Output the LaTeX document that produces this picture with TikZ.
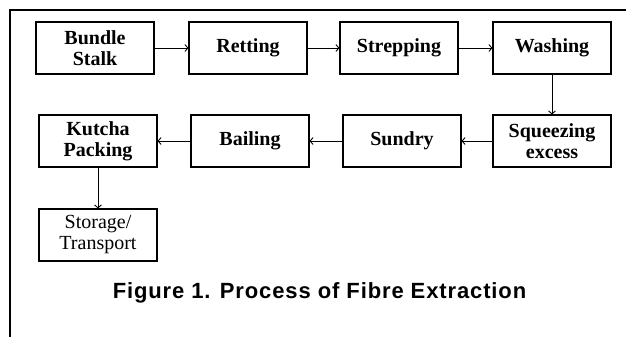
\documentclass[tikz,border=0pt]{standalone}
\usepackage{fontspec}
\usetikzlibrary{arrows.meta}
\newfontfamily\stagefont{Liberation Serif}
\newfontfamily\capfont[LetterSpace=4]{Liberation Sans}

\begin{document}
\begin{tikzpicture}[
  x=1pt, y=-1pt,
  stage/.style={draw, line width=1.1pt, minimum width=118pt,
                minimum height=52pt, inner sep=0pt, align=center,
                font=\stagefont\bfseries\fontsize{20}{21}\selectfont},
  plainstage/.style={stage, font=\stagefont\fontsize{20}{21}\selectfont},
  arrow/.style={-{Straight Barb[length=3pt,width=7pt]}, line width=0.9pt},
]
\useasboundingbox (0,0) rectangle (626,337);

% outer frame (only top and left edges show)
\draw[line width=2.4pt] (10,337) -- (10,10) -- (626,10);

\node[stage]      (bs)  at (95,48)   {Bundle\\Stalk};
\node[stage]      (ret) at (248,48)  {Retting};
\node[stage]      (str) at (399,48)  {Strepping};
\node[stage]      (was) at (552,48)  {Washing};
\node[stage]      (sqz) at (552,141) {Squeezing\\excess};
\node[stage]      (sun) at (402,141) {Sundry};
\node[stage]      (bai) at (250,141) {Bailing};
\node[stage]      (kut) at (98,141)  {Kutcha\\Packing};
\node[plainstage] (sto) at (98,235)  {Storage/\\Transport};

\foreach \a/\b in {bs/ret, ret/str, str/was, was/sqz, sqz/sun, sun/bai, bai/kut, kut/sto}
  \draw[arrow] (\a) -- (\b);

\node[font=\capfont\bfseries\fontsize{22}{26}\selectfont, anchor=base]
  (cap) at (319.5,298) {Figure 1. Process of Fibre Extraction};
\end{tikzpicture}
\end{document}
